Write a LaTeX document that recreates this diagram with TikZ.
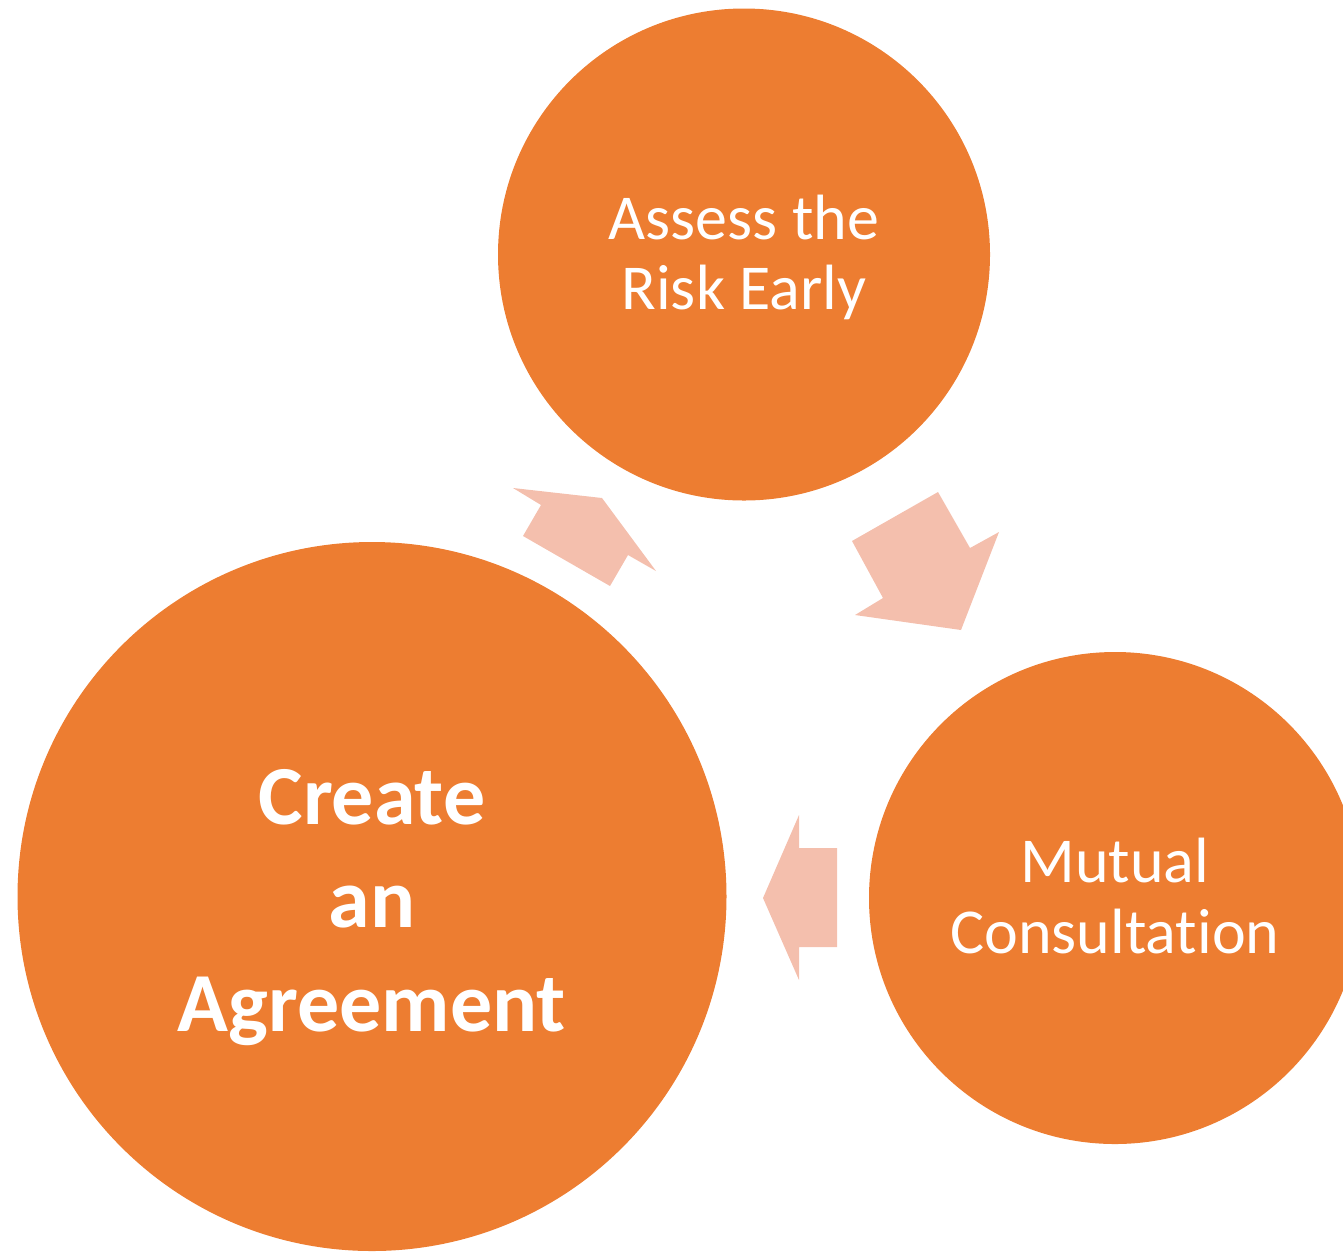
\documentclass[tikz,border=0pt]{standalone}
\usepackage{fontspec}
\setmainfont{Carlito}[RawFeature={-liga}]
\definecolor{orangeC}{HTML}{ED7D31}
\definecolor{arrowC}{HTML}{F4BFAD}
\begin{document}
\begin{tikzpicture}[x=1pt,y=-1pt,
  disc/.style={circle,fill=orangeC,draw=none,inner sep=0pt},
  lbl/.style={text=white,align=center,anchor=base,inner sep=0pt},
  blockarrow/.style={fill=arrowC,draw=none}]
\useasboundingbox (0,0) rectangle (1343,1254);
\begin{scope}
\clip (0,0) rectangle (1343,1254);
\node[disc,minimum size=492pt] (assess) at (744,254.5) {};
\node[disc,minimum size=492pt] (mutual) at (1115,898) {};
\node[disc,minimum size=709pt] (create) at (372,896.5) {};
\end{scope}
\node[lbl,font=\fontsize{64}{70}\selectfont] (tassess) at (744,309) {Assess the\\Risk Early};
\node[lbl,font=\fontsize{64}{71}\selectfont] (tmutual) at (1115,953) {Mutual\\Consultation};
\node[lbl,font=\fontsize{84}{103.5}\selectfont\bfseries] (tcreate) at (372,1031) {Create\\an\\Agreement};
% block arrows
\fill[blockarrow] (513,488) -- (602,498) -- (656,571) -- (628,555) -- (610,586) -- (523,536) -- (541,505) -- cycle;
\fill[blockarrow] (852,541) -- (938,492) -- (970,548) -- (999,532) -- (961,630) -- (855,615) -- (883,598) -- cycle;
\fill[blockarrow] (799,815) -- (799,848) -- (837,848) -- (837,947) -- (799,947) -- (799,980) -- (763,898) -- cycle;
\end{tikzpicture}
\end{document}
